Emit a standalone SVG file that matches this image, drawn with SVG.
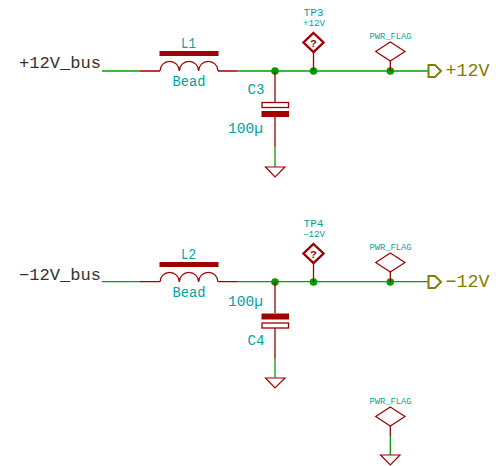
<svg xmlns="http://www.w3.org/2000/svg" width="496" height="466" viewBox="0 0 496 466">
<style>
text{font-family:"Liberation Mono","DejaVu Sans Mono",monospace}
.w{fill:none;stroke:#00a000;stroke-width:1.3}
.p{fill:none;stroke:#a00000;stroke-width:1.3}
.s{fill:none;stroke:#a00000;stroke-width:1.2}
.b{fill:#a00000;stroke:none}
.o{fill:#fff;stroke:#a00000;stroke-width:1.3}
.j{fill:#009c00}
.t{fill:#00a3a3;font-size:14.500px}
.t1{fill:#00a3a3;font-size:11px}
.t2{fill:#00a3a3;font-size:8.500px}
.f{fill:#00a3a3;font-size:9.500px}
.l{fill:#333;font-size:16px}
.g{fill:#808000;font-size:18px}
.pt{fill:none;stroke:#808000;stroke-width:2}
.tp{fill:#fff;stroke:#a00000;stroke-width:2.400}
.q{fill:#a00000;font-size:11px;font-weight:bold;text-anchor:middle}
</style>
<g id="connectors">
<path class="w" d="M102 71H140M237 71H428"/>
<path class="w" d="M102 281.700H140M237 281.700H428"/>
<path class="w" d="M275 147V167M275 359V378M390.300 436V455"/>
<circle class="j" cx="275" cy="71" r="3.800"/><circle class="j" cx="313.500" cy="71" r="3.800"/><circle class="j" cx="390.300" cy="71" r="3.800"/>
<circle class="j" cx="275" cy="282" r="3.800"/><circle class="j" cx="313.500" cy="282" r="3.800"/><circle class="j" cx="390.300" cy="282" r="3.800"/>
</g>
<g id="label-12V-bus"><text class="l" x="19" y="68" textLength="82" lengthAdjust="spacingAndGlyphs">+12V_bus</text></g>
<g id="label-n12V-bus"><text class="l" x="19" y="279.500" textLength="82" lengthAdjust="spacingAndGlyphs">−12V_bus</text></g>
<g id="L1">
<path class="p" d="M140 71H160M218 71H237"/>
<path class="s" d="M160 71A9.600 9.600 0 0 1 179.300 71A9.600 9.600 0 0 1 198.600 71A9.600 9.600 0 0 1 218 71"/>
<rect class="b" x="159.500" y="51" width="59" height="5"/>
<text class="t" x="181" y="47.500" textLength="15" lengthAdjust="spacingAndGlyphs">L1</text>
<text class="t" x="172.500" y="85.500" textLength="33" lengthAdjust="spacingAndGlyphs">Bead</text>
</g>
<g id="L2">
<path class="p" d="M140 281.700H160M218 281.700H237"/>
<path class="s" d="M160 282A9.600 9.600 0 0 1 179.300 282A9.600 9.600 0 0 1 198.600 282A9.600 9.600 0 0 1 218 282"/>
<rect class="b" x="159.500" y="262" width="59" height="5"/>
<text class="t" x="181" y="258.500" textLength="15" lengthAdjust="spacingAndGlyphs">L2</text>
<text class="t" x="172.500" y="296.500" textLength="33" lengthAdjust="spacingAndGlyphs">Bead</text>
</g>
<g id="C3">
<path class="p" d="M275 71V102M275 117V147"/>
<rect class="o" x="262" y="102.500" width="26.500" height="5"/>
<rect class="b" x="261.500" y="111" width="27.500" height="6"/>
<text class="t" x="247.500" y="93.500" textLength="17" lengthAdjust="spacingAndGlyphs">C3</text>
<text class="t" x="228" y="132.500" textLength="35" lengthAdjust="spacingAndGlyphs">100µ</text>
</g>
<g id="C4">
<path class="p" d="M275 282V313M275 328V359"/>
<rect class="b" x="261.500" y="313.500" width="27.500" height="6"/>
<rect class="o" x="262" y="323" width="26.500" height="5"/>
<text class="t" x="247.500" y="344.500" textLength="17" lengthAdjust="spacingAndGlyphs">C4</text>
<text class="t" x="228" y="306" textLength="35" lengthAdjust="spacingAndGlyphs">100µ</text>
</g>
<g id="GND1"><path class="s" d="M265.500 167H285L275 177Z"/></g>
<g id="GND2"><path class="s" d="M265.500 378H285L275 388Z"/></g>
<g id="GND3"><path class="s" d="M380.500 455H400L390.300 465Z"/></g>
<g id="TP3">
<path class="p" d="M313.500 52V71"/>
<path class="tp" d="M313.500 33L323.500 42.500L313.500 52L303.500 42.500Z"/>
<text class="q" x="313.500" y="46.500">?</text>
<text class="t1" x="303.500" y="15.500" textLength="20" lengthAdjust="spacingAndGlyphs">TP3</text>
<text class="t2" x="303" y="26" textLength="22" lengthAdjust="spacingAndGlyphs">+12V</text>
</g>
<g id="TP4">
<path class="p" d="M313.500 263V282"/>
<path class="tp" d="M313.500 244L323.500 253.500L313.500 263L303.500 253.500Z"/>
<text class="q" x="313.500" y="257.500">?</text>
<text class="t1" x="303.500" y="226.500" textLength="20" lengthAdjust="spacingAndGlyphs">TP4</text>
<text class="t2" x="303" y="237" textLength="22" lengthAdjust="spacingAndGlyphs">−12V</text>
</g>
<g id="FLAG1">
<path class="p" d="M390.300 61V71"/>
<path class="s" d="M390.300 42L405 51.500L390.300 61L375.700 51.500Z"/>
<text class="f" x="369.500" y="38.500" textLength="42" lengthAdjust="spacingAndGlyphs">PWR_FLAG</text>
</g>
<g id="FLAG2">
<path class="p" d="M390.300 272V282"/>
<path class="s" d="M390.300 253L405 262.500L390.300 272L375.700 262.500Z"/>
<text class="f" x="369.500" y="249.500" textLength="42" lengthAdjust="spacingAndGlyphs">PWR_FLAG</text>
</g>
<g id="FLAG3">
<path class="p" d="M390.300 426V436"/>
<path class="s" d="M390.300 407L405 416.500L390.300 426L375.700 416.500Z"/>
<text class="f" x="369.500" y="403.500" textLength="42" lengthAdjust="spacingAndGlyphs">PWR_FLAG</text>
</g>
<g id="PORT1">
<path class="pt" d="M428.500 65H435L441 71L435 77H428.500Z"/>
<text class="g" x="445.500" y="76" textLength="44" lengthAdjust="spacingAndGlyphs">+12V</text>
</g>
<g id="PORT2">
<path class="pt" d="M428.500 276H435L441 282L435 288H428.500Z"/>
<text class="g" x="445.500" y="287" textLength="44" lengthAdjust="spacingAndGlyphs">−12V</text>
</g>
</svg>
